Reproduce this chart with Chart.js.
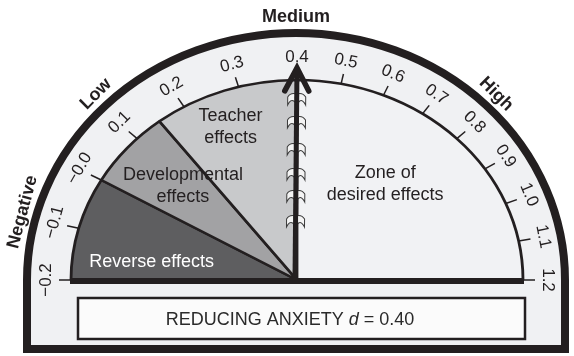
<!DOCTYPE html>
<html>
<head>
<meta charset="utf-8">
<title>Barometer of influence</title>
<script src="https://cdn.jsdelivr.net/npm/chart.js@4.4.1/dist/chart.umd.min.js"></script>
<style>
  html, body { margin: 0; padding: 0; background: #fff; }
  #wrap { width: 574px; height: 356px; }
</style>
</head>
<body>
<div id="wrap"><canvas id="gauge"></canvas></div>
<script>
  // zones of the barometer (effect size d)
  const zoneNames = [["Reverse effects"], ["Developmental", "effects"], ["Teacher", "effects"], ["Zone of", "desired effects"]];
  const zoneStart = [-0.2, 0.0, 0.15, 0.4];
  const zoneEnd = [0.0, 0.15, 0.4, 1.2];
  const zoneColors = ["#5e5e60", "#a2a2a4", "#c8c9cb", "#f1f2f4"];

  const tickValues = [-0.2, -0.1, 0.0, 0.1, 0.2, 0.3, 0.4, 0.5, 0.6, 0.7, 0.8, 0.9, 1.0, 1.1, 1.2];
  const tickLabels = ["\u22120.2", "\u22120.1", "\u22120.0", "0.1", "0.2", "0.3", "0.4", "0.5", "0.6", "0.7", "0.8", "0.9", "1.0", "1.1", "1.2"];

  const bandNames = ["Negative", "Low", "Medium", "High"];
  const bandValues = [-0.1, 0.1, 0.4, 0.8];

  const influenceName = "REDUCING ANXIETY";
  const effectSize = 0.40;

  // barometer scale: left quarter covers -0.2..0.4, right quarter 0.4..1.2
  const scaleMin = -0.2;
  const scaleHinge = 0.4;
  const scaleMax = 1.2;

  function valueToDeg(v) {
    if (v <= scaleHinge) return 180 - ((v - scaleMin) / (scaleHinge - scaleMin)) * 90;
    return 90 - ((v - scaleHinge) / (scaleMax - scaleHinge)) * 90;
  }

  const zoneSpans = zoneStart.map((s, i) => valueToDeg(s) - valueToDeg(zoneEnd[i]));

  const INK = "#231f20";
  const FONT = '"Liberation Sans", Arial, Helvetica, sans-serif';
  const STRETCH = 1.13; // the barometer is wider than tall
  const labelPlace = [[172, 0.65], [137, 0.69], [111, 0.82], [51, 0.62]];

  function geom(chart) {
    const arc = chart.getDatasetMeta(0).data[0];
    const b = arc.outerRadius;
    return { cx: arc.x, cy: arc.y, a: b * STRETCH, b };
  }

  function onEllipse(g, deg, da, db) {
    const t = (deg * Math.PI) / 180;
    return { x: g.cx + (g.a + da) * Math.cos(t), y: g.cy - (g.b + db) * Math.sin(t), t };
  }

  function rotatedText(ctx, text, x, y, t) {
    ctx.save();
    ctx.translate(x, y);
    ctx.rotate(Math.PI / 2 - t);
    ctx.fillText(text, 0, 0);
    ctx.restore();
  }

  const framePlugin = {
    id: "frame",
    beforeDraw(chart) {
      const ctx = chart.ctx;
      const g = geom(chart);
      const fcx = g.cx - 1;
      const fa = 269;
      const fb = 247;
      const bottom = 349;
      ctx.save();
      ctx.fillStyle = "#fff";
      ctx.fillRect(0, 0, chart.width, chart.height);
      ctx.beginPath();
      ctx.ellipse(fcx, g.cy, fa, fb, 0, Math.PI, 2 * Math.PI);
      ctx.lineTo(fcx + fa, bottom);
      ctx.lineTo(fcx - fa, bottom);
      ctx.closePath();
      ctx.fillStyle = "#f0f1f3";
      ctx.fill();
      ctx.lineWidth = 8;
      ctx.strokeStyle = INK;
      ctx.lineJoin = "miter";
      ctx.stroke();

      // band names round the outside
      ctx.fillStyle = INK;
      ctx.font = "bold 18px " + FONT;
      ctx.textAlign = "center";
      ctx.textBaseline = "middle";
      bandNames.forEach((name, i) => {
        const deg = valueToDeg(bandValues[i]);
        const t = (deg * Math.PI) / 180;
        const x = fcx + (fa + 14) * Math.cos(t);
        const y = g.cy - (fb + 16) * Math.sin(t);
        rotatedText(ctx, name, x, y, t);
      });
      ctx.restore();
    },
    beforeDatasetsDraw(chart) {
      const ctx = chart.ctx;
      const g = geom(chart);
      ctx.save();
      ctx.translate(g.cx, 0);
      ctx.scale(STRETCH, 1);
      ctx.translate(-g.cx, 0);
    },
    afterDatasetsDraw(chart) {
      const ctx = chart.ctx;
      ctx.restore();
      const g = geom(chart);

      ctx.save();
      // base line
      ctx.strokeStyle = INK;
      ctx.lineWidth = 6;
      ctx.beginPath();
      ctx.moveTo(g.cx - g.a - 1, g.cy + 1);
      ctx.lineTo(g.cx + g.a + 1, g.cy + 1);
      ctx.stroke();

      // ticks and tick labels
      ctx.lineWidth = 1.5;
      ctx.fillStyle = INK;
      ctx.font = "17px " + FONT;
      ctx.textAlign = "center";
      ctx.textBaseline = "middle";
      tickValues.forEach((v, i) => {
        const deg = valueToDeg(v);
        const p0 = onEllipse(g, deg, 0, 0);
        const p1 = onEllipse(g, deg, 12, 10);
        ctx.beginPath();
        ctx.moveTo(p0.x, p0.y);
        ctx.lineTo(p1.x, p1.y);
        ctx.stroke();
        const pl = onEllipse(g, deg, 25, 23);
        rotatedText(ctx, tickLabels[i], pl.x, pl.y, pl.t);
      });

      // zone labels
      ctx.font = "18px " + FONT;
      zoneNames.forEach((lines, i) => {
        const t = (labelPlace[i][0] * Math.PI) / 180;
        const x = g.cx + g.a * labelPlace[i][1] * Math.cos(t);
        const y = g.cy - g.b * labelPlace[i][1] * Math.sin(t);
        ctx.fillStyle = i === 0 ? "#ffffff" : INK;
        lines.forEach((line, k) => {
          ctx.fillText(line, x, y + (k - (lines.length - 1) / 2) * 22);
        });
      });

      // needle at the effect size
      const deg = valueToDeg(effectSize);
      const tip = onEllipse(g, deg, 13, 13);
      const base = { x: g.cx - 2, y: g.cy };
      const ang = Math.atan2(tip.y - base.y, tip.x - base.x);
      const len = Math.hypot(tip.x - base.x, tip.y - base.y);

      ctx.translate(base.x, base.y);
      ctx.rotate(ang + Math.PI / 2); // needle now points up along -y
      // fletching: small hooked feathers either side of the shaft
      ctx.lineWidth = 1;
      ctx.strokeStyle = "#3a3a3a";
      ctx.fillStyle = "#f4f4f4";
      [33, 56, 83, 108, 130, 155].forEach((d) => {
        const y0 = -len + d;
        [-1, 1].forEach((s) => {
          ctx.beginPath();
          ctx.moveTo(0, y0 - 6);
          ctx.quadraticCurveTo(s * 6, y0 - 8, s * 9, y0 - 3);
          ctx.lineTo(s * 9, y0 + 5);
          ctx.quadraticCurveTo(s * 6, y0 - 1, s * 3, y0 + 1);
          ctx.lineTo(0, y0 + 4);
          ctx.closePath();
          ctx.fill();
          ctx.stroke();
        });
      });
      // shaft
      ctx.strokeStyle = INK;
      ctx.lineWidth = 5;
      ctx.lineCap = "butt";
      ctx.beginPath();
      ctx.moveTo(0, 0);
      ctx.lineTo(0, -len + 2);
      ctx.stroke();
      // head
      ctx.lineWidth = 5.5;
      ctx.lineCap = "round";
      ctx.lineJoin = "miter";
      ctx.beginPath();
      ctx.moveTo(-12, -len + 24);
      ctx.lineTo(0, -len + 1);
      ctx.lineTo(12, -len + 24);
      ctx.stroke();
      ctx.restore();
    },
    afterDraw(chart) {
      const ctx = chart.ctx;
      ctx.save();
      // influence box
      ctx.fillStyle = "#fbfbfb";
      ctx.fillRect(78, 298, 447, 41);
      ctx.strokeStyle = INK;
      ctx.lineWidth = 2.5;
      ctx.strokeRect(78, 298, 447, 41);

      const parts = [
        [influenceName + " ", "18px " + FONT],
        ["d", "italic 18px " + FONT],
        [" = " + effectSize.toFixed(2), "18px " + FONT],
      ];
      let total = 0;
      parts.forEach((p) => { ctx.font = p[1]; total += ctx.measureText(p[0]).width; });
      let x = 290 - total / 2;
      ctx.fillStyle = "#2a2a2a";
      ctx.textBaseline = "alphabetic";
      ctx.textAlign = "left";
      parts.forEach((p) => {
        ctx.font = p[1];
        ctx.fillText(p[0], x, 325);
        x += ctx.measureText(p[0]).width;
      });
      ctx.restore();
    },
  };

  new Chart(document.getElementById("gauge"), {
    type: "doughnut",
    data: {
      labels: zoneNames.map((n) => n.join(" ")),
      datasets: [
        {
          data: zoneSpans,
          backgroundColor: zoneColors,
          borderColor: INK,
          borderWidth: 2.5,
          borderAlign: "center",
          radius: 200,
        },
      ],
    },
    options: {
      responsive: true,
      maintainAspectRatio: false,
      animation: false,
      events: [],
      rotation: -90,
      circumference: 180,
      cutout: 0,
      layout: { padding: { left: 20, right: 0, top: 80, bottom: 76 } },
      plugins: {
        legend: { display: false },
        tooltip: { enabled: false },
      },
    },
    plugins: [framePlugin],
  });
</script>
</body>
</html>
